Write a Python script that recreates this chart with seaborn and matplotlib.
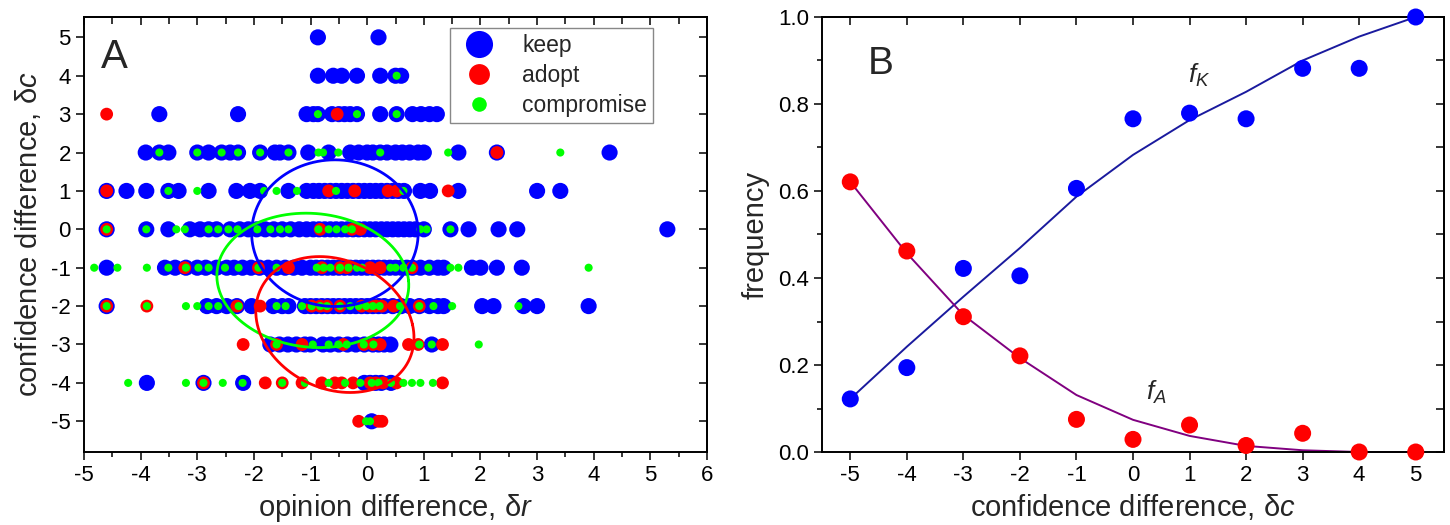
import numpy as np
import pandas as pd
import matplotlib
matplotlib.use("Agg")
import matplotlib.pyplot as plt
import seaborn as sns
from matplotlib.lines import Line2D
from matplotlib.ticker import MultipleLocator, FormatStrFormatter

# ---------------------------------------------------------------------------
# Panel A: opinion difference (dr) of each event, one list per confidence row
# ---------------------------------------------------------------------------
keep_p5 = [-0.87, 0.2]
keep_p4 = [-0.87, -0.6, -0.45, -0.18, 0.23, 0.5, 0.6]
keep_p3 = [-3.67, -2.28, -1.07, -0.95, -0.87, -0.62, -0.5, -0.4, -0.3, -0.18,
           0.23, 0.52, 0.8, 0.95, 1.1, 1.23]
keep_p2 = [-3.91, -3.67, -3.51, -3.0, -2.8, -2.57, -2.42, -2.28, -1.89, -1.63,
           -1.54, -1.39, -1.04, -0.68, -0.3, -0.15, 0.0, 0.1, 0.23, 0.35, 0.5,
           0.62, 0.75, 0.9, 1.0, 1.61, 2.29, 4.28]
keep_p1 = [-4.6, -4.25, -3.9, -3.51, -3.33, -2.8, -2.31, -2.07, -1.89, -1.39,
           -1.07, -0.95, -0.85, -0.75, -0.65, -0.55, -0.45, -0.35, -0.25, -0.15,
           -0.05, 0.05, 0.15, 0.25, 0.35, 0.45, 0.55, 0.65, 0.94, 1.11, 1.61,
           3.0, 3.41]
keep_0 = [-4.6, -3.9, -3.51, -3.13, -2.95, -2.8, -2.66, -2.42, -2.25, -2.1,
          -1.95, -1.8, -1.65, -1.5, -1.35, -1.2, -1.07, -0.95, -0.85, -0.75,
          -0.65, -0.55, -0.45, -0.35, -0.25, -0.15, -0.05, 0.05, 0.15, 0.25,
          0.35, 0.45, 0.55, 0.65, 0.75, 0.85, 1.0, 1.47, 1.79, 2.32, 2.65, 5.3]
keep_m1 = [-4.6, -3.57, -3.39, -3.2, -3.0, -2.85, -2.66, -2.48, -2.35, -2.2,
           -2.05, -1.9, -1.75, -1.6, -1.45, -1.3, -1.15, -1.0, -0.9, -0.8, -0.7,
           -0.6, -0.5, -0.4, -0.3, -0.2, -0.1, 0.0, 0.1, 0.2, 0.3, 0.4, 0.5,
           0.6, 0.7, 0.8, 0.94, 1.1, 1.25, 1.35, 1.85, 2.0, 2.29, 2.73]
keep_m2 = [-4.6, -2.83, -2.66, -2.48, -2.3, -2.04, -1.66, -1.5, -1.39, -1.1,
           -1.0, -0.9, -0.8, -0.7, -0.6, -0.5, -0.4, -0.3, -0.2, -0.1, 0.0, 0.1,
           0.2, 0.3, 0.45, 0.6, 0.75, 0.92, 1.1, 1.25, 1.35, 2.03, 2.23, 2.76,
           3.0, 3.91]
keep_m3 = [-1.71, -1.55, -1.4, -1.25, -1.1, -1.0, -0.78, -0.65, -0.5, -0.35,
           -0.2, -0.05, 0.1, 0.2, 0.3, 0.41, 1.14]
keep_m4 = [-3.89, -2.89, -2.19, -0.05, 0.05, 0.15, 0.25, 0.42]
keep_m5 = [0.08]

adopt_p5 = []
adopt_p4 = []
adopt_p3 = [-4.6, -0.53]
adopt_p2 = [2.29]
adopt_p1 = [-4.6, -0.68, -0.22, 0.37, 0.52, 1.43]
adopt_0 = [-4.6, -0.83, -0.27, -0.12]
adopt_m1 = [-3.22, -1.92, -1.39, -0.8, -0.48, -0.36, 0.05, 0.23, 0.79]
adopt_m2 = [-4.6, -3.89, -2.3, -1.89, -0.98, -0.83, -0.71, -0.48, -0.1, 0.05,
            0.15, 0.26, 0.47, 0.92]
adopt_m3 = [-2.19, -1.6, -1.15, -0.42, -0.06, 0.1, 0.23, 0.73, 0.9, 1.33]
adopt_m4 = [-2.89, -1.8, -1.5, -1.15, -0.8, -0.57, -0.45, -0.25, 0.05, 0.15,
            0.28, 0.52, 1.33]
adopt_m5 = [-0.15, 0.2, 0.26]

comp_p5 = []
comp_p4 = [0.52]
comp_p3 = [-0.87, -0.18, 0.52]
comp_p2 = [-3.67, -3.0, -2.57, -2.28, -1.89, -1.39, -0.86, -0.78, -0.51, 0.23,
           1.43, 3.41]
comp_p1 = [-3.51, -3.0, -1.82, -1.6, -1.24, -0.55, 0.64]
comp_0 = [-4.6, -3.9, -3.37, -3.22, -2.8, -2.63, -2.45, -2.29, -1.94, -1.71,
          -1.54, -1.39, -0.86, -0.68, -0.54, -0.39, -0.27, 0.94, 1.05, 1.47]
comp_m1 = [-4.82, -4.41, -3.89, -3.51, -3.2, -2.98, -2.8, -2.51, -2.27, -1.92,
           -1.6, -0.89, -0.77, -0.65, -0.48, -0.33, -0.18, -0.09, 0.41, 0.5,
           0.64, 0.79, 1.08, 1.47, 1.61, 3.91]
comp_m2 = [-4.6, -3.89, -3.2, -3.0, -2.8, -2.63, -2.27, -1.6, -1.44, -1.15,
           -0.98, -0.83, -0.71, -0.48, -0.3, -0.15, -0.02, 0.1, 0.22, 0.58,
           0.92, 1.17, 1.5, 2.67]
comp_m3 = [-1.6, -0.96, -0.68, -0.51, -0.36, -0.06, 0.11, 0.92, 1.14, 1.97]
comp_m4 = [-4.22, -3.2, -2.89, -2.55, -2.2, -1.5, -1.1, -0.68, -0.39, -0.12,
           0.08, 0.2, 0.42, 0.64, 0.79, 0.94, 1.16]
comp_m5 = [-0.02, 0.05]

dc_rows = [5, 4, 3, 2, 1, 0, -1, -2, -3, -4, -5]
keep_rows = [keep_p5, keep_p4, keep_p3, keep_p2, keep_p1, keep_0,
             keep_m1, keep_m2, keep_m3, keep_m4, keep_m5]
adopt_rows = [adopt_p5, adopt_p4, adopt_p3, adopt_p2, adopt_p1, adopt_0,
              adopt_m1, adopt_m2, adopt_m3, adopt_m4, adopt_m5]
comp_rows = [comp_p5, comp_p4, comp_p3, comp_p2, comp_p1, comp_0,
             comp_m1, comp_m2, comp_m3, comp_m4, comp_m5]

# ellipses: centre x, centre y, radius x, radius y, tilt (x shift at the top)
ellipse_keep = [-0.57, -0.10, 1.47, 1.91, 0.0]
ellipse_comp = [-0.96, -1.33, 1.69, 1.75, -0.12]
ellipse_adopt = [-0.57, -2.48, 1.37, 1.77, -0.27]

# ---------------------------------------------------------------------------
# Panel B: frequencies per confidence difference and the fitted curves
# ---------------------------------------------------------------------------
dc_levels = [-5, -4, -3, -2, -1, 0, 1, 2, 3, 4, 5]
keep_freq = [0.122, 0.194, 0.422, 0.405, 0.606, 0.766, 0.779, 0.766, 0.882, 0.882, 1.0]
adopt_freq = [0.621, 0.462, 0.311, 0.221, 0.075, 0.029, 0.062, 0.015, 0.043, 0.0, 0.0]
fit_keep = [0.122, 0.242, 0.357, 0.469, 0.587, 0.683, 0.763, 0.828, 0.900, 0.955, 1.0]
fit_adopt = [0.621, 0.457, 0.315, 0.216, 0.131, 0.074, 0.037, 0.014, 0.004, 0.0, 0.0]

BLUE = "#0000FF"
RED = "#FF0000"
GREEN = "#00FF00"


def build_frame(rows, kind):
    frames = []
    for dc, xs in zip(dc_rows, rows):
        frames.append(pd.DataFrame({"dr": xs, "dc": [dc] * len(xs), "kind": kind}))
    return pd.concat(frames, ignore_index=True)


def ellipse_line(params):
    cx, cy, rx, ry, sx = params
    t = np.linspace(0, 2 * np.pi, 241)
    return cx + rx * np.cos(t) + sx * np.sin(t), cy + ry * np.sin(t)


def style_axes(ax):
    for sp in ax.spines.values():
        sp.set_linewidth(1.4)
        sp.set_color("black")
    ax.tick_params(which="both", direction="out", width=1.1, labelsize=16,
                   colors="black", bottom=True, left=True, top=False, right=False)
    ax.tick_params(which="major", length=6)
    ax.tick_params(which="minor", length=3.5)


def inner_ticks(sec, side, major, minor=None, minor_len=5):
    axis = sec.xaxis if side == "top" else sec.yaxis
    axis.set_major_locator(MultipleLocator(major))
    if minor is not None:
        axis.set_minor_locator(MultipleLocator(minor))
    if side == "top":
        sec.tick_params(which="both", direction="in", top=True, bottom=False,
                        labeltop=False, width=1.1, colors="black")
    else:
        sec.tick_params(which="both", direction="in", right=True, left=False,
                        labelright=False, width=1.1, colors="black")
    sec.tick_params(which="major", length=6)
    sec.tick_params(which="minor", length=minor_len)


sns.set_theme(style="ticks")
plt.rcParams["font.family"] = ["Liberation Sans", "DejaVu Sans"]
plt.rcParams["mathtext.fontset"] = "custom"
plt.rcParams["mathtext.rm"] = "Liberation Sans"
plt.rcParams["mathtext.it"] = "Liberation Sans:italic"
plt.rcParams["axes.unicode_minus"] = False

fig = plt.figure(figsize=(14.5, 5.25), dpi=100)
W, H = 1450.0, 525.0
axA = fig.add_axes([84 / W, 1 - 452 / H, (707 - 84) / W, (452 - 17) / H])
axB = fig.add_axes([822 / W, 1 - 452 / H, (1444 - 822) / W, (452 - 17) / H])

# ---------------------------- panel A --------------------------------------
df_keep = build_frame(keep_rows, "keep")
df_adopt = build_frame(adopt_rows, "adopt")
df_comp = build_frame(comp_rows, "compromise")

sns.scatterplot(data=df_keep, x="dr", y="dc", color=BLUE, s=135,
                edgecolor="none", linewidth=0, legend=False, ax=axA, zorder=2)
sns.scatterplot(data=df_adopt, x="dr", y="dc", color=RED, s=85,
                edgecolor="none", linewidth=0, legend=False, ax=axA, zorder=3)
sns.scatterplot(data=df_comp, x="dr", y="dc", color=GREEN, s=34,
                edgecolor="none", linewidth=0, legend=False, ax=axA, zorder=4)

for params, col in [(ellipse_keep, BLUE), (ellipse_comp, GREEN), (ellipse_adopt, RED)]:
    ex, ey = ellipse_line(params)
    axA.plot(ex, ey, color=col, lw=2.0, zorder=5)

axA.set_xlim(-5, 6)
axA.set_ylim(-5.8, 5.53)
style_axes(axA)
axA.xaxis.set_major_locator(MultipleLocator(1))
axA.xaxis.set_minor_locator(MultipleLocator(0.5))
axA.yaxis.set_major_locator(MultipleLocator(1))
axA.set_xlabel(r"opinion difference, δ$r$", fontsize=21, labelpad=4)
axA.set_ylabel(r"confidence difference, δ$c$", fontsize=21, labelpad=6)

inner_ticks(axA.secondary_xaxis("top"), "top", 1, 0.5, minor_len=5)
inner_ticks(axA.secondary_yaxis("right"), "right", 1)

axA.text(-4.71, 4.19, "A", fontsize=29, ha="left", va="baseline")

handles = [
    Line2D([], [], ls="none", marker="o", color=BLUE, markersize=19.5, markeredgewidth=0),
    Line2D([], [], ls="none", marker="o", color=RED, markersize=15, markeredgewidth=0),
    Line2D([], [], ls="none", marker="o", color=GREEN, markersize=10.5, markeredgewidth=0),
]
leg = axA.legend(handles, ["keep", "adopt", "compromise"], loc="upper right",
                 bbox_to_anchor=(0.913, 0.975), borderaxespad=0, frameon=True,
                 fancybox=False, edgecolor="#888888", framealpha=1, fontsize=16.5,
                 handletextpad=0.9, labelspacing=0.32, borderpad=0.25, handlelength=2.0)
leg.get_frame().set_linewidth(1.0)
leg.set_zorder(10)

# ---------------------------- panel B --------------------------------------
sns.lineplot(x=dc_levels, y=fit_keep, color="#1a1a9e", lw=1.4, ax=axB, zorder=2)
sns.lineplot(x=dc_levels, y=fit_adopt, color="#800080", lw=1.4, ax=axB, zorder=2)
for line in axB.lines:
    line.set_clip_on(False)

sns.scatterplot(x=dc_levels, y=keep_freq, color=BLUE, s=150, edgecolor="none",
                linewidth=0, legend=False, ax=axB, zorder=3)
sns.scatterplot(x=dc_levels, y=adopt_freq, color=RED, s=150, edgecolor="none",
                linewidth=0, legend=False, ax=axB, zorder=3)
for coll in axB.collections:
    coll.set_clip_on(False)

axB.set_xlim(-5.5, 5.5)
axB.set_ylim(0, 1.0)
style_axes(axB)
axB.xaxis.set_major_locator(MultipleLocator(1))
axB.yaxis.set_major_locator(MultipleLocator(0.2))
axB.yaxis.set_minor_locator(MultipleLocator(0.1))
axB.yaxis.set_major_formatter(FormatStrFormatter("%.1f"))
axB.set_xlabel(r"confidence difference, δ$c$", fontsize=21, labelpad=4)
axB.set_ylabel("frequency", fontsize=21, labelpad=6)

inner_ticks(axB.secondary_xaxis("top"), "top", 1)
inner_ticks(axB.secondary_yaxis("right"), "right", 0.2, 0.1, minor_len=6)

axB.text(-4.69, 0.869, "B", fontsize=28, ha="left", va="baseline")
axB.text(0.97, 0.848, r"$f_K$", fontsize=19, ha="left", va="baseline")
axB.text(0.23, 0.12, r"$f_A$", fontsize=19, ha="left", va="baseline")

fig.savefig("out.png", dpi=100)
